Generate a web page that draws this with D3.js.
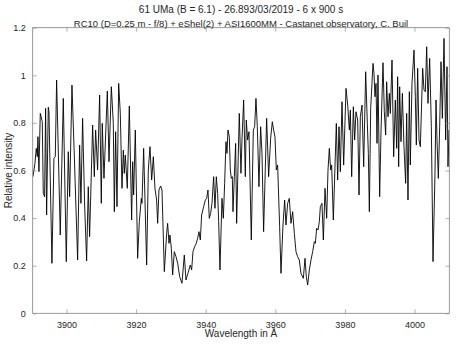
<!DOCTYPE html>
<html><head><meta charset="utf-8">
<script src="https://cdn.jsdelivr.net/npm/d3@7"></script>
<style>
html,body{margin:0;padding:0;background:#fff;}
svg{display:block;}
text{font-family:"Liberation Sans",Arial,Helvetica,sans-serif;fill:#262626;}
</style></head>
<body>
<svg id="chart" width="459" height="345"></svg>
<script>
const titleLines = [
  "61 UMa (B = 6.1) - 26.893/03/2019 - 6 x 900 s",
  "RC10 (D=0.25 m - f/8) + eShel(2) + ASI1600MM - Castanet observatory, C. Buil"
];
const xLabel = "Wavelength in Å";
const yLabel = "Relative intensity";
const xTicks = [3900, 3920, 3940, 3960, 3980, 4000];
const yTicks = [0, 0.2, 0.4, 0.6, 0.8, 1, 1.2];
const xDomain = [3890.3, 4010];
const yDomain = [0, 1.2];

const wavelength = [
3890.37,3890.66,3890.94,3891.33,3891.62,3891.81,3892.09,3892.48,3893.05,3893.34,
3893.72,3894.01,3894.30,3894.78,3894.97,3895.83,3896.40,3896.79,3897.17,3897.65,
3898.22,3899.09,3899.95,3900.52,3900.91,3901.58,3902.25,3903.21,3903.78,3904.16,
3904.64,3905.22,3905.79,3906.27,3906.65,3907.52,3908.00,3908.38,3908.95,3909.53,
3910.01,3910.29,3910.78,3911.74,3912.22,3912.89,3913.46,3913.75,3914.13,3914.52,
3915.00,3915.47,3915.95,3916.34,3916.62,3916.91,3917.48,3918.06,3918.73,3919.02,
3919.30,3919.78,3920.45,3920.93,3921.51,3921.70,3922.18,3923.04,3923.52,3924.00,
3924.48,3924.96,3925.43,3925.91,3926.20,3926.58,3927.06,3927.45,3928.12,3928.79,
3929.07,3929.46,3929.74,3930.13,3930.51,3930.99,3931.47,3931.95,3932.52,3933.19,
3933.86,3934.34,3934.91,3935.58,3935.97,3936.35,3936.83,3937.31,3937.69,3938.08,
3938.46,3938.84,3939.42,3939.90,3940.28,3940.66,3941.04,3941.43,3941.81,3942.29,
3942.67,3943.06,3943.44,3943.73,3944.11,3944.68,3945.07,3945.45,3945.83,3946.12,
3946.41,3946.79,3947.08,3947.37,3947.65,3947.85,3948.23,3948.61,3948.90,3949.66,
3950.14,3950.43,3950.91,3951.39,3951.67,3952.06,3952.44,3953.11,3953.69,3954.07,
3954.45,3954.84,3955.31,3955.79,3956.18,3956.65,3957.52,3958.09,3958.67,3959.15,
3959.53,3959.91,3960.30,3960.68,3961.25,3961.64,3962.21,3962.69,3963.07,3963.55,
3964.03,3964.51,3964.99,3965.47,3965.95,3966.42,3966.90,3967.38,3968.06,3968.54,
3968.92,3969.31,3969.78,3970.26,3970.74,3971.22,3971.51,3971.89,3972.28,3972.66,
3972.95,3973.42,3973.81,3974.29,3974.77,3975.15,3975.53,3975.91,3976.20,3976.68,
3977.54,3977.93,3978.31,3978.69,3979.17,3979.65,3980.32,3980.80,3981.28,3981.57,
3981.95,3982.43,3982.81,3983.19,3983.67,3984.06,3984.44,3984.92,3985.40,3985.97,
3986.45,3986.74,3987.03,3987.41,3988.08,3988.36,3988.65,3988.94,3989.23,3989.51,
3989.99,3990.38,3990.95,3991.33,3991.72,3992.00,3992.39,3992.77,3993.06,3993.54,
3994.02,3994.49,3994.88,3995.16,3995.45,3995.74,3996.12,3996.51,3996.98,3997.46,
3997.75,3998.13,3998.52,3998.80,3999.28,3999.86,4000.24,4000.53,4000.91,4001.30,
4001.68,4002.35,4002.73,4003.12,4003.50,4003.88,4004.36,4004.84,4005.32,4005.89,
4006.18,4006.47,4006.85,4007.23,4007.62,4008.00,4008.48,4008.96,4009.34,4009.63,
4009.92
];
const intensity = [
0.574,0.602,0.630,0.693,0.658,0.742,0.595,0.840,0.805,0.504,
0.490,0.861,0.413,0.866,0.847,0.210,0.651,0.658,0.980,0.686,
0.329,0.903,0.217,0.679,0.490,0.959,0.665,0.224,0.707,0.462,
0.819,0.455,0.220,0.532,0.322,0.791,0.574,0.770,0.602,0.917,
0.462,0.798,0.567,0.934,0.637,0.952,0.798,0.427,0.763,0.448,
0.966,0.840,0.525,0.686,0.588,0.665,0.525,0.871,0.392,0.637,
0.497,0.770,0.231,0.385,0.483,0.462,0.693,0.203,0.602,0.700,
0.560,0.658,0.525,0.476,0.378,0.518,0.535,0.518,0.175,0.336,
0.378,0.294,0.329,0.273,0.161,0.259,0.238,0.210,0.154,0.126,
0.245,0.140,0.168,0.203,0.182,0.259,0.280,0.294,0.315,0.343,
0.308,0.413,0.448,0.476,0.483,0.518,0.399,0.420,0.462,0.574,
0.441,0.574,0.504,0.385,0.182,0.483,0.399,0.546,0.721,0.672,
0.770,0.742,0.602,0.567,0.574,0.427,0.574,0.714,0.378,0.840,
0.588,0.728,0.896,0.574,0.812,0.728,0.763,0.308,0.770,0.784,
0.903,0.784,0.532,0.784,0.672,0.343,0.819,0.574,0.735,0.805,
0.770,0.742,0.602,0.623,0.364,0.168,0.371,0.476,0.371,0.462,
0.483,0.378,0.427,0.336,0.259,0.238,0.224,0.168,0.147,0.231,
0.154,0.119,0.182,0.224,0.259,0.301,0.294,0.357,0.350,0.385,
0.448,0.462,0.308,0.525,0.399,0.602,0.693,0.602,0.623,0.392,
0.798,0.560,0.784,0.595,0.889,0.623,0.945,0.875,0.770,0.854,
0.574,0.868,0.728,0.847,0.812,0.497,0.826,0.875,0.616,1.015,
0.798,0.672,0.427,0.861,1.050,1.008,0.910,0.966,0.714,1.001,
0.490,0.763,1.053,0.847,0.749,0.973,0.826,0.924,0.840,1.064,
0.658,0.896,0.693,0.994,0.616,0.952,0.721,0.924,0.700,0.546,
0.840,0.476,0.931,0.623,0.966,1.106,0.910,0.707,1.029,0.728,
0.700,1.029,0.938,0.931,1.120,0.882,1.071,0.784,0.217,0.588,
0.896,0.728,0.567,0.784,1.057,0.819,1.155,0.728,1.036,0.616,
0.770
];

const W = 459, H = 345;
const margin = {left: 32.7, right: W - 449.3, top: 27.7, bottom: H - 313.3};
const svg = d3.select("#chart");
const x = d3.scaleLinear().domain(xDomain).range([margin.left, W - margin.right]);
const y = d3.scaleLinear().domain(yDomain).range([H - margin.bottom, margin.top]);

const data = wavelength.map((w, i) => ({w, v: intensity[i]}));

svg.append("defs").append("clipPath").attr("id", "clip")
  .append("rect").attr("x", x.range()[0]).attr("y", y.range()[1])
  .attr("width", x.range()[1] - x.range()[0]).attr("height", y.range()[0] - y.range()[1]);

svg.append("path").datum(data)
  .attr("clip-path", "url(#clip)")
  .attr("fill", "none").attr("stroke", "#000").attr("stroke-width", 0.9)
  .attr("stroke-linejoin", "round")
  .attr("d", d3.line().x(d => x(d.w)).y(d => y(d.v)));

const axisColor = "#808080";
const tl = 4;
function styleAxis(g) {
  g.select(".domain").remove();
  g.selectAll(".tick line").attr("stroke", axisColor).attr("stroke-width", 0.6);
  g.selectAll(".tick text").attr("font-size", 9).attr("fill", "#262626")
    .style("font-family", '"Liberation Sans",Arial,sans-serif');
}
const fmtY = d => d3.format("~g")(d);
svg.append("g").attr("transform", `translate(0,${y(0)})`)
  .call(d3.axisBottom(x).tickValues(xTicks).tickFormat(d3.format("d")).tickSizeInner(-tl).tickSizeOuter(0).tickPadding(8))
  .call(styleAxis);
svg.append("g").attr("transform", `translate(0,${y(1.2)})`)
  .call(d3.axisTop(x).tickValues(xTicks).tickFormat("").tickSizeInner(-tl).tickSizeOuter(0))
  .call(styleAxis);
svg.append("g").attr("transform", `translate(${x(xDomain[0])},0)`)
  .call(d3.axisLeft(y).tickValues(yTicks).tickFormat(fmtY).tickSizeInner(-tl).tickSizeOuter(0).tickPadding(7))
  .call(styleAxis);
svg.append("g").attr("transform", `translate(${x(xDomain[1])},0)`)
  .call(d3.axisRight(y).tickValues(yTicks).tickFormat("").tickSizeInner(-tl).tickSizeOuter(0))
  .call(styleAxis);

svg.append("rect")
  .attr("x", x.range()[0]).attr("y", y.range()[1])
  .attr("width", x.range()[1] - x.range()[0]).attr("height", y.range()[0] - y.range()[1])
  .attr("fill", "none").attr("stroke", axisColor).attr("stroke-width", 0.8);

const cx = (x.range()[0] + x.range()[1]) / 2;
svg.append("g").selectAll("text").data(titleLines).join("text")
  .attr("x", cx).attr("y", (d, i) => i === 0 ? 12.8 : 26.6)
  .attr("text-anchor", "middle").attr("font-size", (d, i) => i === 0 ? 10 : 9.5).text(d => d);

svg.append("text").attr("x", cx).attr("y", 337).attr("text-anchor", "middle")
  .attr("font-size", 10).text(xLabel);
svg.append("text").attr("transform", `translate(12,${(y.range()[0] + y.range()[1]) / 2}) rotate(-90)`)
  .attr("text-anchor", "middle").attr("font-size", 10).text(yLabel);
</script>
</body></html>
